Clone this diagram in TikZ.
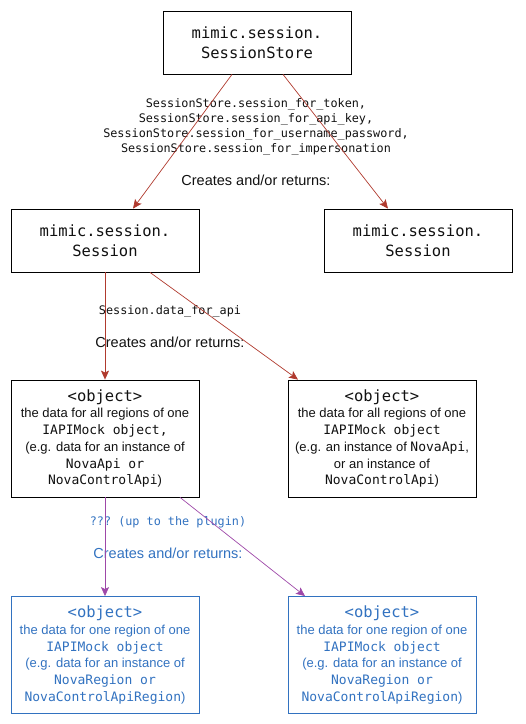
\documentclass[tikz,border=0pt]{standalone}
\usepackage{fontspec}
\setmainfont{Liberation Sans}
\setmonofont{DejaVu Sans Mono}
\usetikzlibrary{arrows.meta, positioning}
\definecolor{linkred}{HTML}{B03A2E}
\definecolor{linkpurple}{HTML}{9E48A8}
\definecolor{plugblue}{HTML}{3272C0}
\definecolor{textcolor}{HTML}{111111}
\tikzset{
  classbox/.style={
    draw=black,
    line width=0.8pt,
    align=center,
    text=textcolor,
    minimum width=188pt,
    minimum height=63pt,
    inner sep=0pt,
    font=\ttfamily\fontsize{15.5}{19.5}\selectfont
  },
  databox/.style={
    classbox,
    minimum height=117pt,
    font=\fontsize{13}{16.7}\selectfont
  },
  regionbox/.style={
    databox,
    draw=plugblue,
    text=plugblue
  },
  redarrow/.style={
    -{Stealth[length=9pt, width=8pt, inset=2pt]},
    line width=0.7pt,
    color=linkred
  },
  purplearrow/.style={
    redarrow,
    color=linkpurple
  },
  callnote/.style={
    align=center,
    inner sep=0pt,
    text=textcolor,
    font=\ttfamily\fontsize{11.8}{15}\selectfont
  },
  createsnote/.style={
    inner sep=0pt,
    text=textcolor,
    font=\fontsize{14.5}{17}\selectfont
  }
}
\newcommand{\objhead}{{\ttfamily\fontsize{15.5}{17}\selectfont <object>}}
\newcommand{\codeword}[1]{{\ttfamily\fontsize{13}{16.7}\selectfont #1}}

\begin{document}
\begin{tikzpicture}[x=1pt, y=1pt]
  \useasboundingbox (0,0) rectangle (526,-724);

  % Sessions
  \node (store) [classbox] at (257,-42.5) {mimic.session.\\SessionStore};
  \node (sessA) [classbox] at (105,-240.5) {mimic.session.\\Session};
  \node (sessB) [classbox] at (418,-240.5) {mimic.session.\\Session};

  % API data
  \node (objA) [databox] at (105,-438.5) {\objhead\\the data for all regions of one\\\codeword{IAPIMock object,}\\(e.g. data for an instance of\\\codeword{NovaApi or}\\\codeword{NovaControlApi})};
  \node (objB) [databox] at (382,-438.5) {\objhead\\the data for all regions of one\\\codeword{IAPIMock object}\\(e.g. an instance of \codeword{NovaApi},\\or an instance of\\\codeword{NovaControlApi})};

  % Region data
  \node (regA) [regionbox] at (105,-655) {\objhead\\the data for one region of one\\\codeword{IAPIMock object}\\(e.g. data for an instance of\\\codeword{NovaRegion or}\\\codeword{NovaControlApiRegion})};
  \node (regB) [regionbox] at (382,-655) {\objhead\\the data for one region of one\\\codeword{IAPIMock object}\\(e.g. data for an instance of\\\codeword{NovaRegion or}\\\codeword{NovaControlApiRegion})};

  % Labels
  \node (storecalls) [callnote] at (256,-126.5) {SessionStore.session\_for\_token,\\SessionStore.session\_for\_api\_key,\\SessionStore.session\_for\_username\_password,\\SessionStore.session\_for\_impersonation};
  \node (storecreates) [createsnote] at (256,-180) {Creates and/or returns:};
  \node (sesscalls) [callnote] at (170,-311) {Session.data\_for\_api};
  \node (sesscreates) [createsnote] at (170,-342) {Creates and/or returns:};
  \node (plugcalls) [callnote, text=plugblue] at (168,-522) {??? (up to the plugin)};
  \node (plugcreates) [createsnote, text=plugblue] at (168,-553) {Creates and/or returns:};

  % Connectors
  \draw [redarrow] ([xshift=-25pt]store.south) -- ([xshift=28pt]sessA.north);
  \draw [redarrow] ([xshift=26pt]store.south) -- ([xshift=-30pt]sessB.north);
  \draw [redarrow] (sessA.south) -- (objA.north);
  \draw [redarrow] ([xshift=45pt]sessA.south) -- ([xshift=-84pt]objB.north);
  \draw [purplearrow] (objA.south) -- (regA.north);
  \draw [purplearrow] ([xshift=75pt]objA.south) -- ([xshift=-77pt]regB.north);

\end{tikzpicture}
\end{document}
